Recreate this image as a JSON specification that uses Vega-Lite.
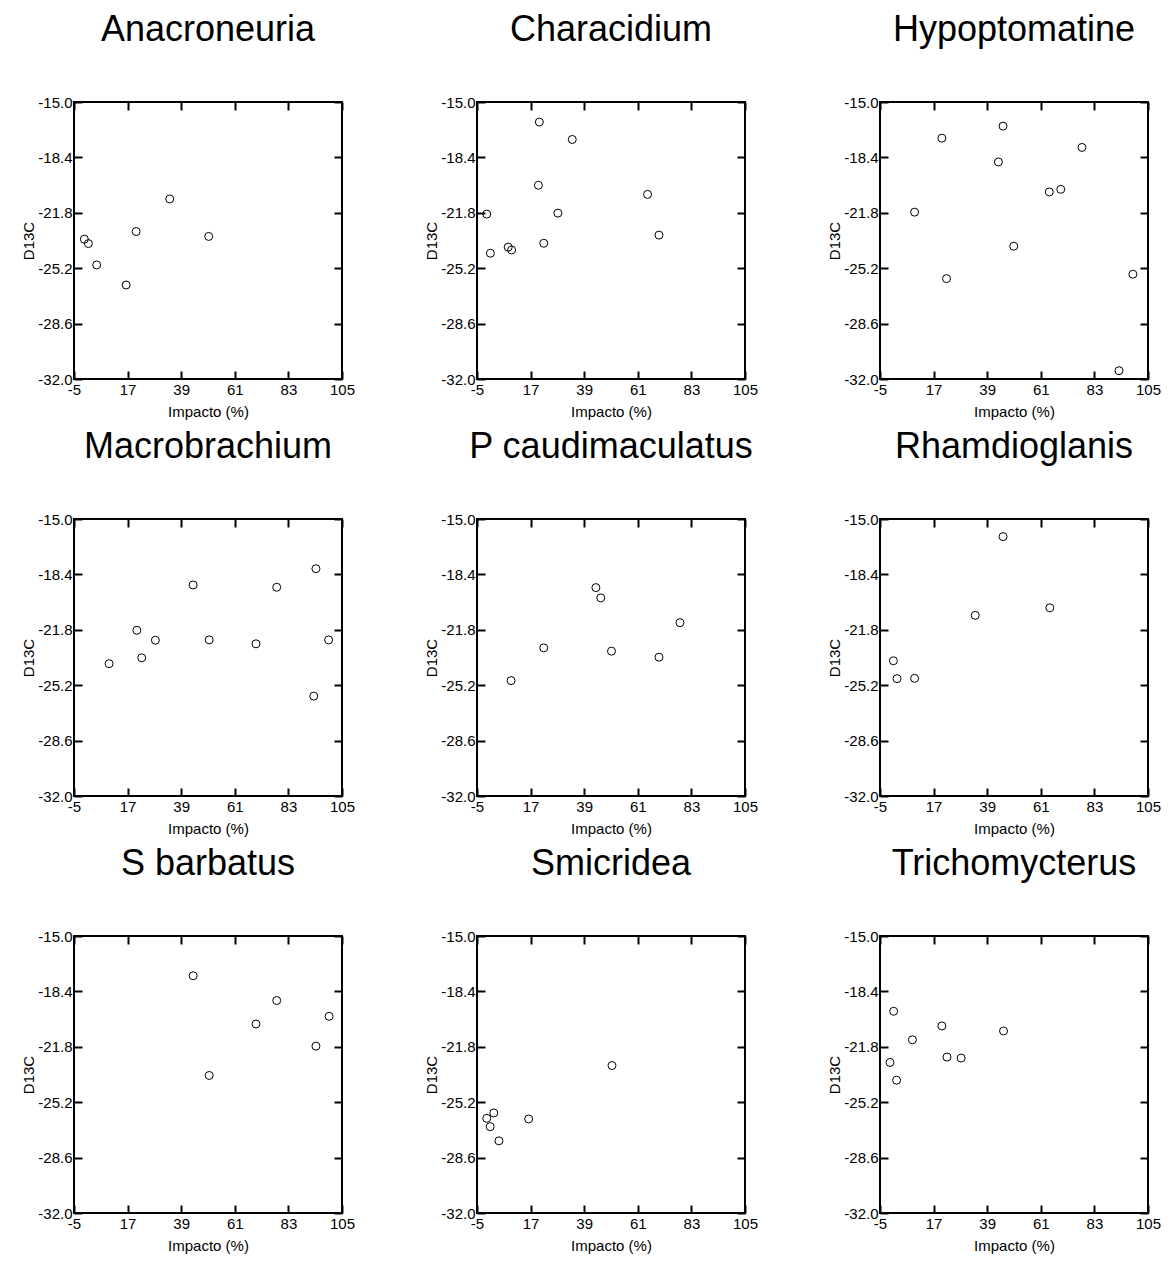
{
  "$schema": "https://vega.github.io/schema/vega-lite/v6.json",
  "background": "white",
  "padding": {"left": 20, "top": 11, "right": 5, "bottom": 5},
  "datasets": {
    "anac": [{"impacto": -0.75, "d13c": -23.42}, {"impacto": 0.9, "d13c": -23.69}, {"impacto": 4.3, "d13c": -25.0}, {"impacto": 16.4, "d13c": -26.23}, {"impacto": 20.5, "d13c": -22.95}, {"impacto": 34.3, "d13c": -20.95}, {"impacto": 50.3, "d13c": -23.25}],
    "char": [{"impacto": 20.6, "d13c": -16.23}, {"impacto": 34.1, "d13c": -17.3}, {"impacto": 20.2, "d13c": -20.11}, {"impacto": 65.0, "d13c": -20.67}, {"impacto": -1.0, "d13c": -21.88}, {"impacto": 28.2, "d13c": -21.82}, {"impacto": 69.7, "d13c": -23.17}, {"impacto": 22.4, "d13c": -23.67}, {"impacto": 0.5, "d13c": -24.28}, {"impacto": 7.8, "d13c": -23.91}, {"impacto": 9.2, "d13c": -24.08}],
    "hypo": [{"impacto": 45.5, "d13c": -16.48}, {"impacto": 20.4, "d13c": -17.22}, {"impacto": 77.9, "d13c": -17.79}, {"impacto": 43.6, "d13c": -18.68}, {"impacto": 64.5, "d13c": -20.52}, {"impacto": 69.2, "d13c": -20.36}, {"impacto": 9.2, "d13c": -21.76}, {"impacto": 49.9, "d13c": -23.85}, {"impacto": 22.3, "d13c": -25.84}, {"impacto": 98.8, "d13c": -25.57}, {"impacto": 93.1, "d13c": -31.49}],
    "macr": [{"impacto": 9.4, "d13c": -23.88}, {"impacto": 20.8, "d13c": -21.83}, {"impacto": 22.8, "d13c": -23.52}, {"impacto": 28.4, "d13c": -22.44}, {"impacto": 43.9, "d13c": -19.05}, {"impacto": 50.5, "d13c": -22.42}, {"impacto": 69.7, "d13c": -22.66}, {"impacto": 78.2, "d13c": -19.19}, {"impacto": 94.3, "d13c": -18.05}, {"impacto": 93.4, "d13c": -25.87}, {"impacto": 99.5, "d13c": -22.42}],
    "pcau": [{"impacto": 9.0, "d13c": -24.92}, {"impacto": 22.4, "d13c": -22.91}, {"impacto": 43.8, "d13c": -19.21}, {"impacto": 45.8, "d13c": -19.84}, {"impacto": 50.2, "d13c": -23.11}, {"impacto": 69.7, "d13c": -23.48}, {"impacto": 78.3, "d13c": -21.36}],
    "rham": [{"impacto": 45.5, "d13c": -16.08}, {"impacto": 34.1, "d13c": -20.91}, {"impacto": 64.7, "d13c": -20.45}, {"impacto": 0.5, "d13c": -23.7}, {"impacto": 2.0, "d13c": -24.8}, {"impacto": 9.2, "d13c": -24.78}],
    "sbar": [{"impacto": 43.9, "d13c": -17.44}, {"impacto": 78.2, "d13c": -18.96}, {"impacto": 69.7, "d13c": -20.4}, {"impacto": 99.7, "d13c": -19.93}, {"impacto": 94.3, "d13c": -21.76}, {"impacto": 50.5, "d13c": -23.56}],
    "smic": [{"impacto": 50.4, "d13c": -22.95}, {"impacto": 1.9, "d13c": -25.86}, {"impacto": -1.0, "d13c": -26.19}, {"impacto": 0.4, "d13c": -26.7}, {"impacto": 4.0, "d13c": -27.57}, {"impacto": 16.2, "d13c": -26.23}],
    "tric": [{"impacto": 0.6, "d13c": -19.62}, {"impacto": 20.4, "d13c": -20.52}, {"impacto": 45.7, "d13c": -20.83}, {"impacto": 8.3, "d13c": -21.37}, {"impacto": -0.9, "d13c": -22.76}, {"impacto": 22.5, "d13c": -22.43}, {"impacto": 28.3, "d13c": -22.49}, {"impacto": 1.8, "d13c": -23.85}]
  },
  "columns": 3,
  "spacing": {"row": 140, "column": 135},
  "bounds": "flush",
  "concat": [
    {"title": "Anacroneuria", "data": {"name": "anac"}, "width": 268, "height": 277, "resolve": {"axis": {"x": "independent", "y": "independent"}},
     "layer": [
      {"mark": {"type": "point", "shape": "circle", "filled": false, "color": "black", "size": 64, "strokeWidth": 1, "opacity": 1},
       "encoding": {"x": {"field": "impacto", "type": "quantitative", "scale": {"domain": [-5, 105], "nice": false, "zero": false}, "axis": {"title": "Impacto (%)", "values": [-5, 17, 39, 61, 83, 105], "format": "d"}},
                    "y": {"field": "d13c", "type": "quantitative", "scale": {"domain": [-32, -15], "nice": false, "zero": false}, "axis": {"title": "D13C", "values": [-15, -18.4, -21.8, -25.2, -28.6, -32], "format": ".1f"}}}},
      {"mark": {"type": "point", "opacity": 0},
       "encoding": {"x": {"field": "impacto", "type": "quantitative", "axis": {"title": null, "orient": "top", "values": [-5, 17, 39, 61, 83, 105]}},
                    "y": {"field": "d13c", "type": "quantitative", "axis": {"title": null, "orient": "right", "values": [-15, -18.4, -21.8, -25.2, -28.6, -32]}}}}
     ]},
    {"title": "Characidium", "data": {"name": "char"}, "width": 268, "height": 277, "resolve": {"axis": {"x": "independent", "y": "independent"}},
     "layer": [
      {"mark": {"type": "point", "shape": "circle", "filled": false, "color": "black", "size": 64, "strokeWidth": 1, "opacity": 1},
       "encoding": {"x": {"field": "impacto", "type": "quantitative", "scale": {"domain": [-5, 105], "nice": false, "zero": false}, "axis": {"title": "Impacto (%)", "values": [-5, 17, 39, 61, 83, 105], "format": "d"}},
                    "y": {"field": "d13c", "type": "quantitative", "scale": {"domain": [-32, -15], "nice": false, "zero": false}, "axis": {"title": "D13C", "values": [-15, -18.4, -21.8, -25.2, -28.6, -32], "format": ".1f"}}}},
      {"mark": {"type": "point", "opacity": 0},
       "encoding": {"x": {"field": "impacto", "type": "quantitative", "axis": {"title": null, "orient": "top", "values": [-5, 17, 39, 61, 83, 105]}},
                    "y": {"field": "d13c", "type": "quantitative", "axis": {"title": null, "orient": "right", "values": [-15, -18.4, -21.8, -25.2, -28.6, -32]}}}}
     ]},
    {"title": "Hypoptomatine", "data": {"name": "hypo"}, "width": 268, "height": 277, "resolve": {"axis": {"x": "independent", "y": "independent"}},
     "layer": [
      {"mark": {"type": "point", "shape": "circle", "filled": false, "color": "black", "size": 64, "strokeWidth": 1, "opacity": 1},
       "encoding": {"x": {"field": "impacto", "type": "quantitative", "scale": {"domain": [-5, 105], "nice": false, "zero": false}, "axis": {"title": "Impacto (%)", "values": [-5, 17, 39, 61, 83, 105], "format": "d"}},
                    "y": {"field": "d13c", "type": "quantitative", "scale": {"domain": [-32, -15], "nice": false, "zero": false}, "axis": {"title": "D13C", "values": [-15, -18.4, -21.8, -25.2, -28.6, -32], "format": ".1f"}}}},
      {"mark": {"type": "point", "opacity": 0},
       "encoding": {"x": {"field": "impacto", "type": "quantitative", "axis": {"title": null, "orient": "top", "values": [-5, 17, 39, 61, 83, 105]}},
                    "y": {"field": "d13c", "type": "quantitative", "axis": {"title": null, "orient": "right", "values": [-15, -18.4, -21.8, -25.2, -28.6, -32]}}}}
     ]},
    {"title": "Macrobrachium", "data": {"name": "macr"}, "width": 268, "height": 277, "resolve": {"axis": {"x": "independent", "y": "independent"}},
     "layer": [
      {"mark": {"type": "point", "shape": "circle", "filled": false, "color": "black", "size": 64, "strokeWidth": 1, "opacity": 1},
       "encoding": {"x": {"field": "impacto", "type": "quantitative", "scale": {"domain": [-5, 105], "nice": false, "zero": false}, "axis": {"title": "Impacto (%)", "values": [-5, 17, 39, 61, 83, 105], "format": "d"}},
                    "y": {"field": "d13c", "type": "quantitative", "scale": {"domain": [-32, -15], "nice": false, "zero": false}, "axis": {"title": "D13C", "values": [-15, -18.4, -21.8, -25.2, -28.6, -32], "format": ".1f"}}}},
      {"mark": {"type": "point", "opacity": 0},
       "encoding": {"x": {"field": "impacto", "type": "quantitative", "axis": {"title": null, "orient": "top", "values": [-5, 17, 39, 61, 83, 105]}},
                    "y": {"field": "d13c", "type": "quantitative", "axis": {"title": null, "orient": "right", "values": [-15, -18.4, -21.8, -25.2, -28.6, -32]}}}}
     ]},
    {"title": "P caudimaculatus", "data": {"name": "pcau"}, "width": 268, "height": 277, "resolve": {"axis": {"x": "independent", "y": "independent"}},
     "layer": [
      {"mark": {"type": "point", "shape": "circle", "filled": false, "color": "black", "size": 64, "strokeWidth": 1, "opacity": 1},
       "encoding": {"x": {"field": "impacto", "type": "quantitative", "scale": {"domain": [-5, 105], "nice": false, "zero": false}, "axis": {"title": "Impacto (%)", "values": [-5, 17, 39, 61, 83, 105], "format": "d"}},
                    "y": {"field": "d13c", "type": "quantitative", "scale": {"domain": [-32, -15], "nice": false, "zero": false}, "axis": {"title": "D13C", "values": [-15, -18.4, -21.8, -25.2, -28.6, -32], "format": ".1f"}}}},
      {"mark": {"type": "point", "opacity": 0},
       "encoding": {"x": {"field": "impacto", "type": "quantitative", "axis": {"title": null, "orient": "top", "values": [-5, 17, 39, 61, 83, 105]}},
                    "y": {"field": "d13c", "type": "quantitative", "axis": {"title": null, "orient": "right", "values": [-15, -18.4, -21.8, -25.2, -28.6, -32]}}}}
     ]},
    {"title": "Rhamdioglanis", "data": {"name": "rham"}, "width": 268, "height": 277, "resolve": {"axis": {"x": "independent", "y": "independent"}},
     "layer": [
      {"mark": {"type": "point", "shape": "circle", "filled": false, "color": "black", "size": 64, "strokeWidth": 1, "opacity": 1},
       "encoding": {"x": {"field": "impacto", "type": "quantitative", "scale": {"domain": [-5, 105], "nice": false, "zero": false}, "axis": {"title": "Impacto (%)", "values": [-5, 17, 39, 61, 83, 105], "format": "d"}},
                    "y": {"field": "d13c", "type": "quantitative", "scale": {"domain": [-32, -15], "nice": false, "zero": false}, "axis": {"title": "D13C", "values": [-15, -18.4, -21.8, -25.2, -28.6, -32], "format": ".1f"}}}},
      {"mark": {"type": "point", "opacity": 0},
       "encoding": {"x": {"field": "impacto", "type": "quantitative", "axis": {"title": null, "orient": "top", "values": [-5, 17, 39, 61, 83, 105]}},
                    "y": {"field": "d13c", "type": "quantitative", "axis": {"title": null, "orient": "right", "values": [-15, -18.4, -21.8, -25.2, -28.6, -32]}}}}
     ]},
    {"title": "S barbatus", "data": {"name": "sbar"}, "width": 268, "height": 277, "resolve": {"axis": {"x": "independent", "y": "independent"}},
     "layer": [
      {"mark": {"type": "point", "shape": "circle", "filled": false, "color": "black", "size": 64, "strokeWidth": 1, "opacity": 1},
       "encoding": {"x": {"field": "impacto", "type": "quantitative", "scale": {"domain": [-5, 105], "nice": false, "zero": false}, "axis": {"title": "Impacto (%)", "values": [-5, 17, 39, 61, 83, 105], "format": "d"}},
                    "y": {"field": "d13c", "type": "quantitative", "scale": {"domain": [-32, -15], "nice": false, "zero": false}, "axis": {"title": "D13C", "values": [-15, -18.4, -21.8, -25.2, -28.6, -32], "format": ".1f"}}}},
      {"mark": {"type": "point", "opacity": 0},
       "encoding": {"x": {"field": "impacto", "type": "quantitative", "axis": {"title": null, "orient": "top", "values": [-5, 17, 39, 61, 83, 105]}},
                    "y": {"field": "d13c", "type": "quantitative", "axis": {"title": null, "orient": "right", "values": [-15, -18.4, -21.8, -25.2, -28.6, -32]}}}}
     ]},
    {"title": "Smicridea", "data": {"name": "smic"}, "width": 268, "height": 277, "resolve": {"axis": {"x": "independent", "y": "independent"}},
     "layer": [
      {"mark": {"type": "point", "shape": "circle", "filled": false, "color": "black", "size": 64, "strokeWidth": 1, "opacity": 1},
       "encoding": {"x": {"field": "impacto", "type": "quantitative", "scale": {"domain": [-5, 105], "nice": false, "zero": false}, "axis": {"title": "Impacto (%)", "values": [-5, 17, 39, 61, 83, 105], "format": "d"}},
                    "y": {"field": "d13c", "type": "quantitative", "scale": {"domain": [-32, -15], "nice": false, "zero": false}, "axis": {"title": "D13C", "values": [-15, -18.4, -21.8, -25.2, -28.6, -32], "format": ".1f"}}}},
      {"mark": {"type": "point", "opacity": 0},
       "encoding": {"x": {"field": "impacto", "type": "quantitative", "axis": {"title": null, "orient": "top", "values": [-5, 17, 39, 61, 83, 105]}},
                    "y": {"field": "d13c", "type": "quantitative", "axis": {"title": null, "orient": "right", "values": [-15, -18.4, -21.8, -25.2, -28.6, -32]}}}}
     ]},
    {"title": "Trichomycterus", "data": {"name": "tric"}, "width": 268, "height": 277, "resolve": {"axis": {"x": "independent", "y": "independent"}},
     "layer": [
      {"mark": {"type": "point", "shape": "circle", "filled": false, "color": "black", "size": 64, "strokeWidth": 1, "opacity": 1},
       "encoding": {"x": {"field": "impacto", "type": "quantitative", "scale": {"domain": [-5, 105], "nice": false, "zero": false}, "axis": {"title": "Impacto (%)", "values": [-5, 17, 39, 61, 83, 105], "format": "d"}},
                    "y": {"field": "d13c", "type": "quantitative", "scale": {"domain": [-32, -15], "nice": false, "zero": false}, "axis": {"title": "D13C", "values": [-15, -18.4, -21.8, -25.2, -28.6, -32], "format": ".1f"}}}},
      {"mark": {"type": "point", "opacity": 0},
       "encoding": {"x": {"field": "impacto", "type": "quantitative", "axis": {"title": null, "orient": "top", "values": [-5, 17, 39, 61, 83, 105]}},
                    "y": {"field": "d13c", "type": "quantitative", "axis": {"title": null, "orient": "right", "values": [-15, -18.4, -21.8, -25.2, -28.6, -32]}}}}
     ]}
  ],
  "config": {
    "font": "Liberation Sans",
    "view": {"stroke": "black", "strokeWidth": 2},
    "title": {"fontSize": 36, "fontWeight": "normal", "font": "Liberation Sans", "color": "black", "anchor": "middle", "frame": "group", "baseline": "alphabetic", "offset": 46},
    "axis": {"domain": false, "grid": false, "tickColor": "black", "tickWidth": 2, "tickSize": -8, "labelPadding": 10, "labelFont": "Liberation Sans", "labelFontSize": 15, "labelColor": "black", "labelExpr": "replace(datum.label, '\u2212', '-')", "titleFont": "Liberation Sans", "titleFontSize": 15, "titleFontWeight": "normal", "titleColor": "black", "labelFlush": false, "labelOverlap": false},
    "axisTop": {"labels": false},
    "axisRight": {"labels": false},
    "axisBottom": {"titlePadding": 7, "labelPadding": 11},
    "axisLeft": {"titlePadding": 1, "labelPadding": 10}
  }
}
